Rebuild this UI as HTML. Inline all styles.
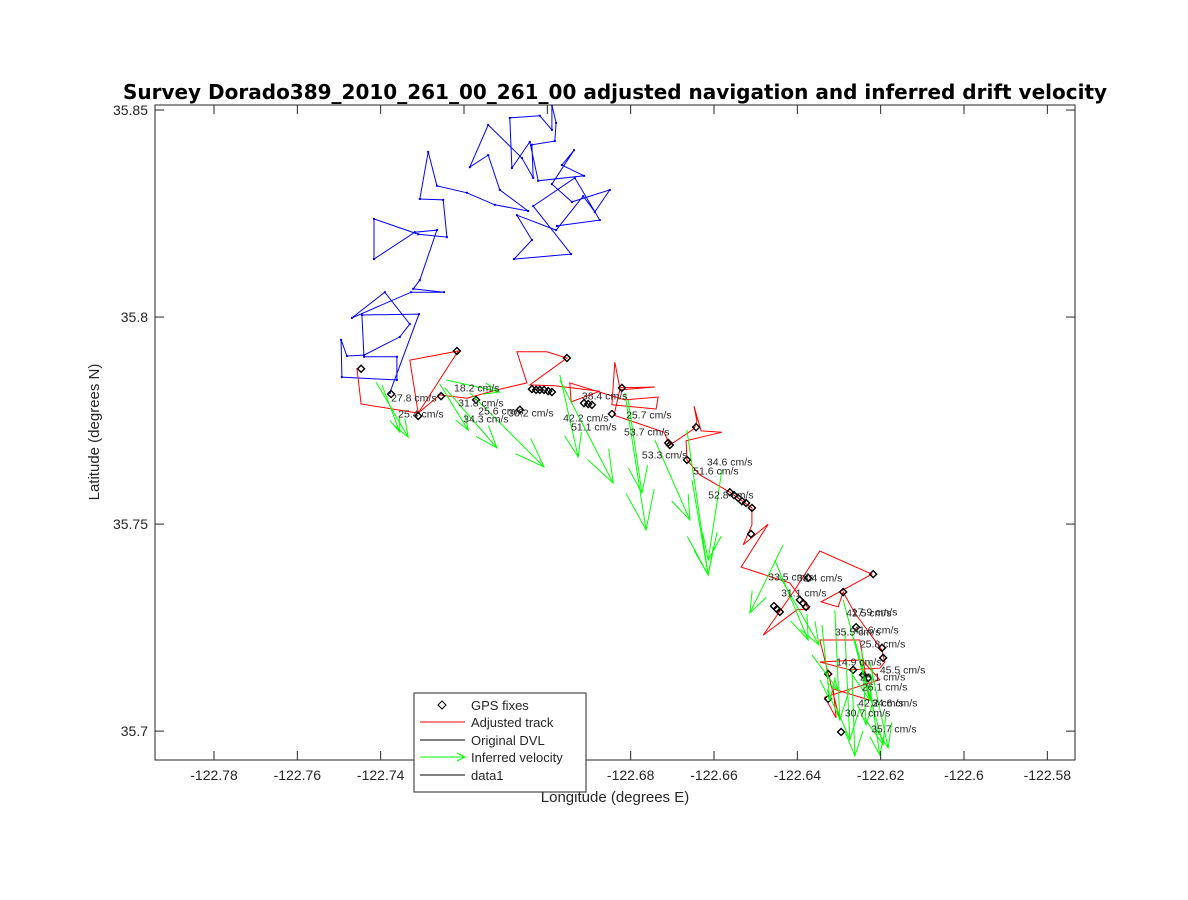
<!DOCTYPE html>
<html><head><meta charset="utf-8"><style>
html,body{margin:0;padding:0;background:#fff;}
svg{display:block;font-family:"Liberation Sans","DejaVu Sans",sans-serif;}
</style></head><body>
<svg id="chart" width="1188" height="900" viewBox="0 0 1188 900" xmlns="http://www.w3.org/2000/svg">
<rect x="0" y="0" width="1188" height="900" fill="#fff"/>
<rect x="155" y="105" width="920" height="655" fill="#fff"/>
<g id="marks"></g>
<g id="axes"></g>
<text x="615" y="99" text-anchor="middle" font-size="20" font-weight="bold" fill="#000" style="font-family:'DejaVu Sans',sans-serif">Survey Dorado389_2010_261_00_261_00 adjusted navigation and inferred drift velocity</text>
<text x="615" y="802" text-anchor="middle" font-size="15" fill="#262626">Longitude (degrees E)</text>
<text transform="translate(99,432) rotate(-90)" text-anchor="middle" font-size="15" fill="#262626">Latitude (degrees N)</text>
<g>
<rect x="414" y="693" width="172" height="99" fill="#fff" stroke="#262626" stroke-width="1"/>
<g><polygon points="442,701 446,705 442,709 438,705" fill="none" stroke="#000"/><text x="471" y="710" font-size="13" fill="#262626">GPS fixes</text></g>
<g><line x1="420" y1="722" x2="465" y2="722" stroke="#f00"/><text x="471" y="727" font-size="13" fill="#262626">Adjusted track</text></g>
<g><line x1="420" y1="740" x2="465" y2="740" stroke="#000"/><text x="471" y="745" font-size="13" fill="#262626">Original DVL</text></g>
<g><line x1="420" y1="757" x2="465" y2="757" stroke="#0f0"/><polyline points="457,753 465,757 457,761" fill="none" stroke="#0f0"/><text x="471" y="762" font-size="13" fill="#262626">Inferred velocity</text></g>
<g><line x1="420" y1="775" x2="465" y2="775" stroke="#000"/><text x="471" y="780" font-size="13" fill="#262626">data1</text></g>
</g>
</svg>
<script>
const xTicks = [-122.78,-122.76,-122.74,-122.72,-122.70,-122.68,-122.66,-122.64,-122.62,-122.60,-122.58];
const xTickLabels = ["-122.78","-122.76","-122.74","-122.72","-122.7","-122.68","-122.66","-122.64","-122.62","-122.6","-122.58"];
const yTicks = [35.70,35.75,35.80,35.85];
const yTickLabels = ["35.7","35.75","35.8","35.85"];

const dvlLon = [-122.7378,-122.7308,-122.7445,-122.7440,-122.7361,-122.7361,-122.7493,-122.7495,-122.7481,-122.7440,-122.7354,-122.7330,-122.7390,-122.7469,-122.7327,-122.7248,-122.7322,-122.7306,-122.7265,-122.7318,-122.7416,-122.7416,-122.7310,-122.7241,-122.7250,-122.7306,-122.7286,-122.7265,-122.7193,-122.7126,-122.7046,-122.7114,-122.7142,-122.7186,-122.7142,-122.7061,-122.7034,-122.7037,-122.6982,-122.6979,-122.6989,-122.6989,-122.7018,-122.7090,-122.7085,-122.7042,-122.7022,-122.6912,-122.6965,-122.6936,-122.6989,-122.6941,-122.6850,-122.6886,-122.6914,-122.6979,-122.7073,-122.7037,-122.7080,-122.6943,-122.7034,-122.6934,-122.6874,-122.6977];
const dvlLat = [35.7817,35.8007,35.8005,35.7904,35.7904,35.7848,35.7855,35.7945,35.7906,35.7908,35.7952,35.7983,35.8060,35.7998,35.8060,35.8060,35.8068,35.8089,35.8210,35.8205,35.8140,35.8237,35.8200,35.8193,35.8283,35.8285,35.8399,35.8317,35.8300,35.8271,35.8256,35.8307,35.8391,35.8362,35.8464,35.8384,35.8336,35.8416,35.8425,35.8469,35.8512,35.8452,35.8486,35.8481,35.8360,35.8423,35.8329,35.8341,35.8367,35.8403,35.8321,35.8278,35.8307,35.8254,35.8292,35.8210,35.8246,35.8186,35.8140,35.8152,35.8268,35.8336,35.8234,35.8220];

const adjLon = [-122.7457,-122.7447,-122.7310,-122.7330,-122.7214,-122.7310,-122.7258,-122.7193,-122.7121,-122.7049,-122.7073,-122.7001,-122.6953,-122.7042,-122.6982,-122.6874,-122.6943,-122.6946,-122.6814,-122.6734,-122.6739,-122.6845,-122.6838,-122.6826,-122.6742,-122.6826,-122.6840,-122.6720,-122.6706,-122.6648,-122.6641,-122.6648,-122.6631,-122.6581,-122.6667,-122.6665,-122.6634,-122.6562,-122.6509,-122.6509,-122.6530,-122.6470,-122.6535,-122.6418,-122.6372,-122.6401,-122.6482,-122.6406,-122.6346,-122.6221,-122.6343,-122.6302,-122.6290,-122.6264,-122.6197,-122.6190,-122.6202,-122.6274,-122.6346,-122.6245,-122.6202,-122.6334,-122.6307,-122.6314,-122.6226,-122.6250,-122.6346,-122.6298];
const adjLat = [35.7877,35.7790,35.7768,35.7896,35.7918,35.7768,35.7812,35.7804,35.7824,35.7841,35.7916,35.7916,35.7901,35.7836,35.7834,35.7821,35.7795,35.7841,35.7800,35.7807,35.7778,35.7788,35.7891,35.7829,35.7831,35.7824,35.7763,35.7722,35.7691,35.7730,35.7749,35.7785,35.7725,35.7722,35.7701,35.7655,35.7619,35.7577,35.7539,35.7498,35.7450,35.7500,35.7396,35.7358,35.7295,35.7293,35.7232,35.7341,35.7435,35.7379,35.7312,35.7300,35.7336,35.7288,35.7196,35.7167,35.7152,35.7148,35.7167,35.7172,35.7124,35.7082,35.7032,35.7102,35.7075,35.7220,35.7220,35.7027];

const gpsLon = [-122.7447,-122.7375,-122.7310,-122.7217,-122.7255,-122.7171,-122.7066,-122.6953,-122.7037,-122.7027,-122.7018,-122.7008,-122.6998,-122.6989,-122.6912,-122.6902,-122.6893,-122.6821,-122.6845,-122.6643,-122.6710,-122.6706,-122.6665,-122.6562,-122.6552,-122.6542,-122.6533,-122.6523,-122.6509,-122.6511,-122.6379,-122.6442,-122.6456,-122.6449,-122.6394,-122.6386,-122.6374,-122.6218,-122.6290,-122.6259,-122.6197,-122.6194,-122.6230,-122.6326,-122.6326,-122.6295,-122.6266,-122.6242];
const gpsLat = [35.7875,35.7814,35.7761,35.7918,35.7809,35.7800,35.7776,35.7901,35.7826,35.7824,35.7824,35.7824,35.7821,35.7819,35.7792,35.7790,35.7788,35.7829,35.7766,35.7734,35.7696,35.7691,35.7655,35.7577,35.7570,35.7563,35.7555,35.7551,35.7539,35.7476,35.7300,35.7288,35.7302,35.7295,35.7317,35.7309,35.7370,35.7379,35.7336,35.7251,35.7201,35.7177,35.7128,35.7138,35.7078,35.6998,35.7148,35.7136];

const velLon0 = [-122.7411,-122.7397,-122.7258,-122.7246,-122.7186,-122.6970,-122.6970,-122.6814,-122.6806,-122.6665,-122.6653,-122.6581,-122.6434,-122.6454,-122.6444,-122.6310,-122.6290,-122.6286,-122.6262,-122.6245,-122.6226,-122.6269,-122.6226,-122.6365,-122.6341,-122.7243,-122.6742];
const velLat0 = [35.7843,35.7836,35.7838,35.7829,35.7817,35.7860,35.7848,35.7817,35.7800,35.7727,35.7607,35.7631,35.7450,35.7413,35.7377,35.7293,35.7317,35.7244,35.7220,35.7196,35.7167,35.7152,35.7111,35.7184,35.7256,35.7848,35.7703];
const velLon1 = [-122.7334,-122.7354,-122.7190,-122.7121,-122.7008,-122.6926,-122.6842,-122.6763,-122.6773,-122.6614,-122.6614,-122.6614,-122.6514,-122.6374,-122.6348,-122.6298,-122.6226,-122.6274,-122.6194,-122.6235,-122.6182,-122.6262,-122.6202,-122.6302,-122.6322,-122.7114,-122.6658];
const velLat1 = [35.7710,35.7722,35.7727,35.7684,35.7638,35.7662,35.7599,35.7486,35.7575,35.7377,35.7377,35.7413,35.7285,35.7220,35.7208,35.7027,35.7075,35.6979,35.6967,35.7015,35.6959,35.6940,35.6942,35.7099,35.7075,35.7819,35.7510];

const labelText = ["18.2 cm/s","27.8 cm/s","31.8 cm/s","25.4 cm/s","25.6 cm/s","30.2 cm/s","34.3 cm/s","38.4 cm/s","42.2 cm/s","25.7 cm/s","51.1 cm/s","53.7 cm/s","53.3 cm/s","34.6 cm/s","51.6 cm/s","52.8 cm/s","33.5 cm/s","38.4 cm/s","31.1 cm/s","42.5 cm/s","17.9 cm/s","35.5 cm/s","41.6 cm/s","25.8 cm/s","14.9 cm/s","45.5 cm/s","28.1 cm/s","26.1 cm/s","42.2 cm/s","34.6 cm/s","30.7 cm/s","35.7 cm/s"];
const labelLon = [-122.7224,-122.7375,-122.7214,-122.7358,-122.7166,-122.7094,-122.7202,-122.6917,-122.6962,-122.6811,-122.6943,-122.6816,-122.6773,-122.6617,-122.6650,-122.6614,-122.6470,-122.6401,-122.6439,-122.6283,-122.6269,-122.6310,-122.6266,-122.6250,-122.6307,-122.6202,-122.6250,-122.6245,-122.6254,-122.6221,-122.6286,-122.6223];
const labelLat = [35.7829,35.7804,35.7792,35.7766,35.7773,35.7768,35.7754,35.7809,35.7756,35.7763,35.7734,35.7722,35.7667,35.7650,35.7628,35.7570,35.7372,35.7370,35.7334,35.7285,35.7288,35.7239,35.7244,35.7210,35.7167,35.7148,35.7131,35.7107,35.7068,35.7068,35.7044,35.7005];

const X0 = 214, XR = -122.78, XS = 0.00024;
const Y0 = 110, YR = 35.85, YS = 0.0002415;
function xs(v){ return X0 + (v - XR) / XS; }
function ys(v){ return Y0 + (YR - v) / YS; }

const NS = "http://www.w3.org/2000/svg";
const marks = document.getElementById('marks');
const axes = document.getElementById('axes');
function mk(tag, attrs, parent){
  const e = document.createElementNS(NS, tag);
  for (const k in attrs) e.setAttribute(k, attrs[k]);
  parent.appendChild(e);
  return e;
}
const clip = mk('clipPath', {id:'pc'}, document.getElementById('chart'));
mk('rect', {x:155,y:105,width:920,height:655}, clip);
marks.setAttribute('clip-path','url(#pc)');

function pts(lons, lats){ return lons.map((v,i)=>xs(v).toFixed(1)+','+ys(lats[i]).toFixed(1)).join(' '); }

const dvl = mk('polyline', {points:pts(dvlLon,dvlLat), fill:'none', stroke:'#00f', 'stroke-width':1}, marks);


dvlLon.forEach((v,i)=>{
  const d = mk('rect', {x:xs(v)-1, y:ys(dvlLat[i])-1, width:2, height:2, fill:'#00f'}, marks);
  
  
});

const adj = mk('polyline', {points:pts(adjLon,adjLat), fill:'none', stroke:'#f00', 'stroke-width':1}, marks);



gpsLon.forEach((v,i)=>{
  const x = xs(v), y = ys(gpsLat[i]);
  const g = mk('polygon', {points:`${x},${y-3.5} ${x+3.5},${y} ${x},${y+3.5} ${x-3.5},${y}`, fill:'none', stroke:'#000', 'stroke-width':1.4}, marks);
  
  
});

velLon0.forEach((v,i)=>{
  const x0 = xs(v), y0 = ys(velLat0[i]), x1 = xs(velLon1[i]), y1 = ys(velLat1[i]);
  const dx = x1-x0, dy = y1-y0, L = Math.hypot(dx,dy), a = Math.atan2(dy,dx);
  const h = L*0.3, t = 0.35;
  const g = mk('g', {stroke:'#0f0', 'stroke-width':1, fill:'none'}, marks);
  
  
  mk('line', {x1:x0,y1:y0,x2:x1,y2:y1}, g);
  mk('polyline', {points:`${x1-h*Math.cos(a-t)},${y1-h*Math.sin(a-t)} ${x1},${y1} ${x1-h*Math.cos(a+t)},${y1-h*Math.sin(a+t)}`}, g);
});

labelText.forEach((s,i)=>{
  const t = mk('text', {x:xs(labelLon[i]), y:ys(labelLat[i])+3.5, 'font-size':10.5, fill:'#262626'}, marks);
  t.textContent = s;
  
  
});

const box = mk('rect', {x:155,y:105,width:920,height:655,fill:'none',stroke:'#262626','stroke-width':1}, axes);


xTicks.forEach((v,i)=>{
  const x = xs(v);
  mk('line', {x1:x,y1:760,x2:x,y2:751,stroke:'#262626'}, axes);
  mk('line', {x1:x,y1:105,x2:x,y2:114,stroke:'#262626'}, axes);
  const t = mk('text', {x:x, y:780, 'text-anchor':'middle', 'font-size':14, fill:'#262626'}, axes);
  t.textContent = xTickLabels[i];
  
  
});
yTicks.forEach((v,i)=>{
  const y = ys(v);
  mk('line', {x1:155,y1:y,x2:164,y2:y,stroke:'#262626'}, axes);
  mk('line', {x1:1075,y1:y,x2:1066,y2:y,stroke:'#262626'}, axes);
  const t = mk('text', {x:148, y:y+5, 'text-anchor':'end', 'font-size':14, fill:'#262626'}, axes);
  t.textContent = yTickLabels[i];
  
  
});
</script>
</body></html>
